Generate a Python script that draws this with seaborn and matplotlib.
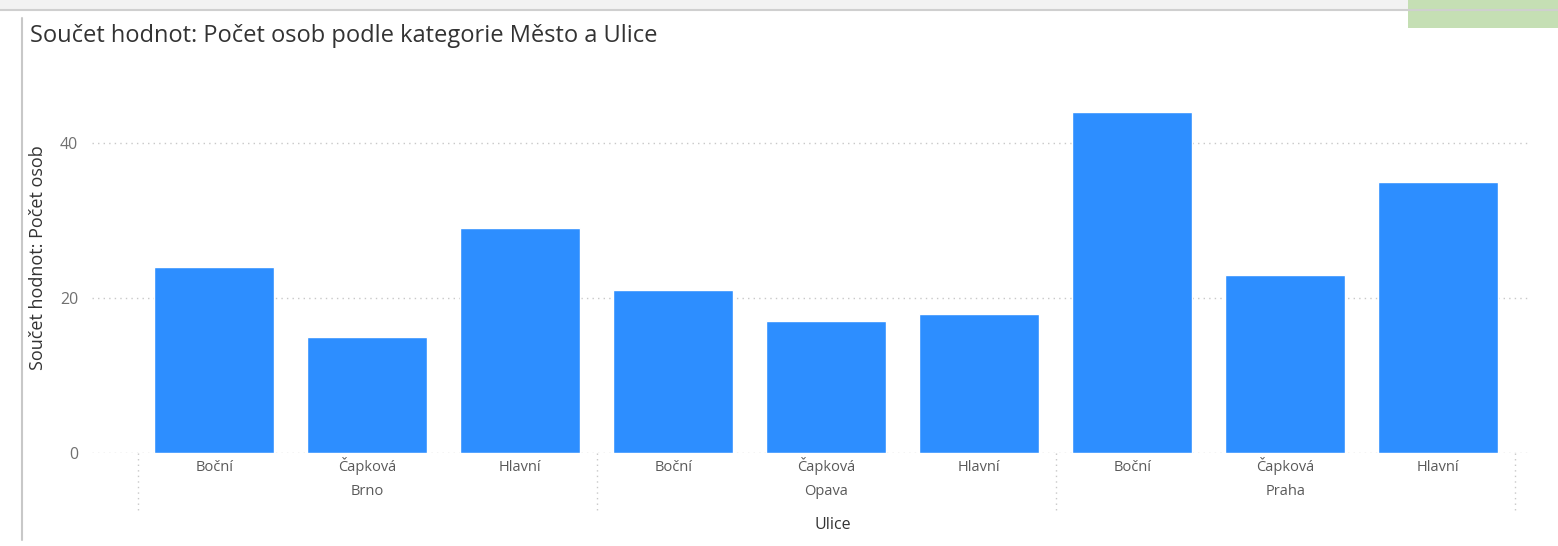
import pandas as pd
import matplotlib.pyplot as plt
import matplotlib.patches as mpatches
import matplotlib.transforms as mtransforms
import seaborn as sns

# data
mesta = ['Brno', 'Opava', 'Praha']
ulice = ['Boční', 'Čapková', 'Hlavní']
pocet_brno = [24, 15, 29]
pocet_opava = [21, 17, 18]
pocet_praha = [44, 23, 35]

rows = []
for mesto, vals in zip(mesta, [pocet_brno, pocet_opava, pocet_praha]):
    for u, v in zip(ulice, vals):
        rows.append({'Město': mesto, 'Ulice': u, 'key': mesto + '|' + u, 'Počet osob': v})
df = pd.DataFrame(rows)

sns.set_style('white')
plt.rcParams['font.family'] = ['Open Sans', 'DejaVu Sans']

fig = plt.figure(figsize=(15.58, 5.46), dpi=100)
ax = fig.add_axes([92 / 1558, (546 - 453) / 546, 1438 / 1558, 368 / 546])

sns.barplot(data=df, x='key', y='Počet osob', color='#2D8EFF', width=0.785,
            saturation=1, errorbar=None, ax=ax)

ax.set_xlim(-0.8, 8.6)
ax.set_ylim(0, 47.5)
ax.set_yticks([0, 20, 40])
ax.tick_params(axis='y', length=0, labelsize=11.5, labelcolor='#707070', pad=10)
ax.tick_params(axis='x', length=0, labelsize=10.5, labelcolor='#5a5a5a', pad=13)
ax.set_xticks(range(len(df)))
ax.set_xticklabels(df['Ulice'])
for lbl in ax.get_xticklabels():
    lbl.set_va('baseline')  # keep all street names on one baseline
for s in ax.spines.values():
    s.set_visible(False)
ax.grid(axis='y', color='#c8c8c8', linestyle=(0, (1, 3)), linewidth=1)
ax.set_axisbelow(True)

ax.set_ylabel('Součet hodnot: Počet osob', fontsize=13, color='#333333')
ax.yaxis.set_label_coords(-0.031, 0.53)
ax.set_xlabel('Ulice', fontsize=11.5, color='#333333')
ax.xaxis.set_label_coords(0.515, -0.175)

# city labels and dotted group separators
trans = mtransforms.blended_transform_factory(ax.transData, ax.transAxes)
for i, mesto in enumerate(mesta):
    ax.text(3 * i + 1, -0.115, mesto, transform=trans, ha='center', va='baseline',
            fontsize=10.5, color='#5a5a5a')
for xs in [-0.5, 2.5, 5.5, 8.5]:
    ax.plot([xs, xs], [0, -0.16], transform=trans, clip_on=False,
            color='#c8c8c8', linestyle=(0, (1, 3)), linewidth=1)

fig.text(30 / 1558, 1 - 36 / 546, 'Součet hodnot: Počet osob podle kategorie Město a Ulice',
         fontsize=17, color='#333333', va='center', ha='left')

# surrounding report canvas bits
fig.patches.append(mpatches.Rectangle((0, 1 - 9 / 546), 1, 9 / 546, transform=fig.transFigure,
                                      facecolor='#f2f2f2', edgecolor='none'))
fig.lines.append(plt.Line2D([0, 1], [1 - 10 / 546, 1 - 10 / 546], transform=fig.transFigure,
                            color='#cfcfcf', linewidth=1.5))
fig.patches.append(mpatches.Rectangle((1408 / 1558, 1 - 28 / 546), 150 / 1558, 28 / 546,
                                      transform=fig.transFigure, facecolor='#c5dfb4',
                                      edgecolor='none'))
fig.lines.append(plt.Line2D([22 / 1558, 22 / 1558], [1 - 540 / 546, 1 - 18 / 546],
                            transform=fig.transFigure, color='#c8c8c8', linewidth=1.5))

fig.savefig('out.png', dpi=100)
